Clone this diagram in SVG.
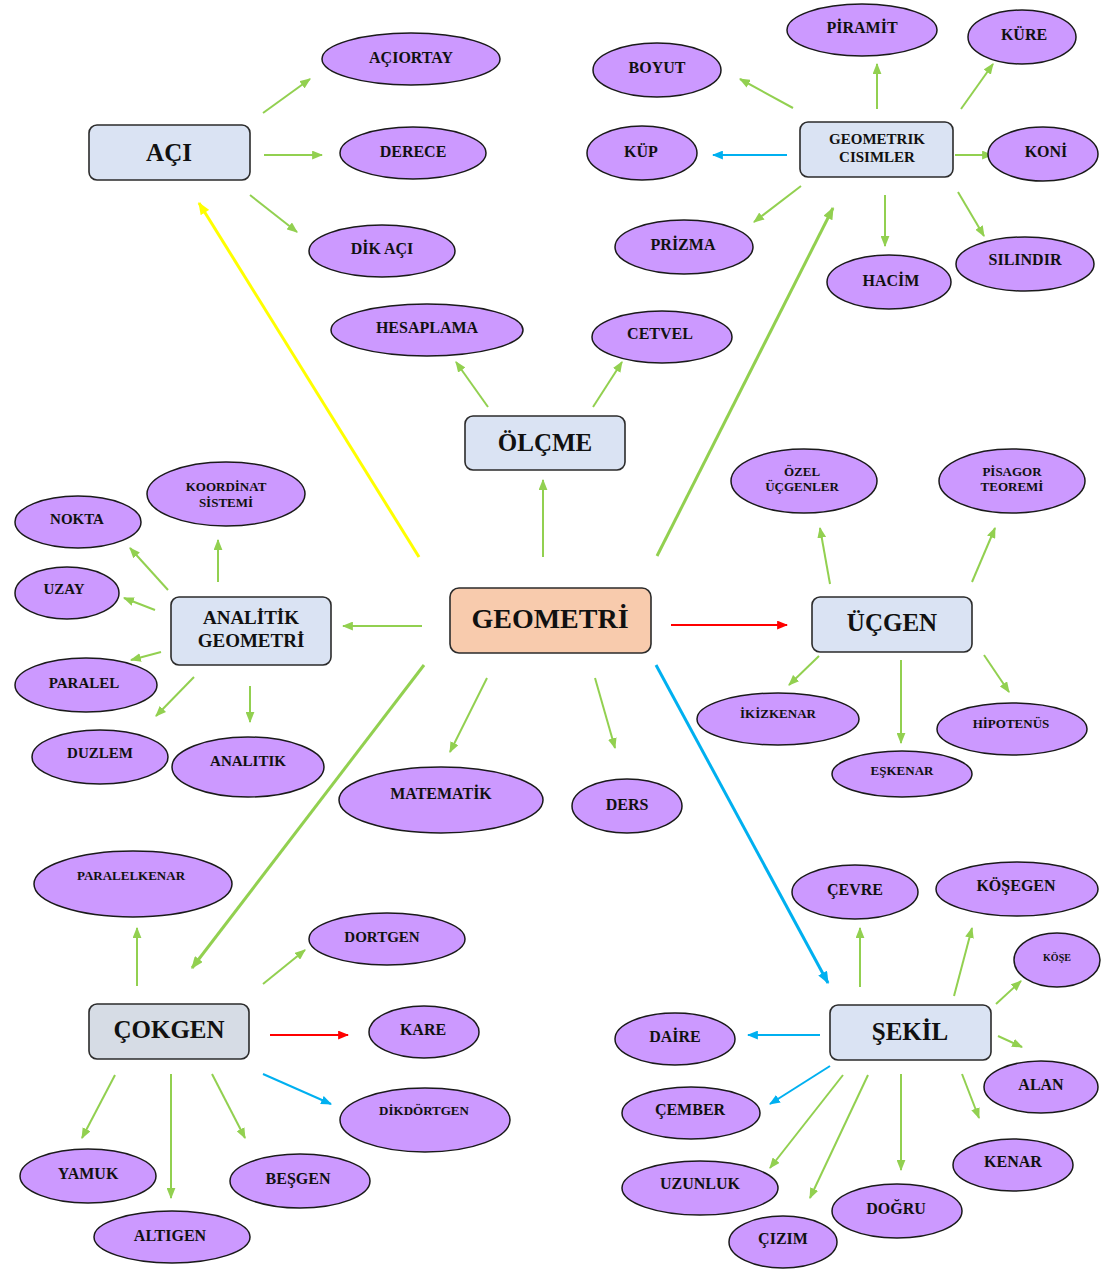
<svg xmlns="http://www.w3.org/2000/svg" width="1109" height="1270" viewBox="0 0 1109 1270">
<defs>
<style>
.box{fill:#dae3f3;stroke:#2b2b2b;stroke-width:1.6}
.ov{fill:#cc99ff;stroke:#1a1a1a;stroke-width:1.5}
text{font-family:"Liberation Serif","Times New Roman",serif;font-weight:bold;fill:#111;text-anchor:middle}
.t16{font-size:16px}
.t15{font-size:15px}
.t13{font-size:13px}
.tb{font-size:25px}
.g{stroke:#92d050;stroke-width:2;fill:none;marker-end:url(#ag)}
.gw{stroke:#92d050;stroke-width:3;fill:none;marker-end:url(#ag3)}
.b{stroke:#00b0f0;stroke-width:2;fill:none;marker-end:url(#ab)}
.bw{stroke:#00b0f0;stroke-width:3;fill:none;marker-end:url(#ab3)}
.r{stroke:#ff0000;stroke-width:2;fill:none;marker-end:url(#ar)}
.y{stroke:#ffff00;stroke-width:3;fill:none;marker-end:url(#ay3)}
</style>
<marker id="ag" viewBox="0 0 10 8" refX="9" refY="4" markerWidth="11" markerHeight="9" markerUnits="userSpaceOnUse" orient="auto"><path d="M0,0L10,4L0,8z" fill="#92d050"/></marker>
<marker id="ag3" viewBox="0 0 10 8" refX="9" refY="4" markerWidth="13" markerHeight="10" markerUnits="userSpaceOnUse" orient="auto"><path d="M0,0L10,4L0,8z" fill="#92d050"/></marker>
<marker id="ab" viewBox="0 0 10 8" refX="9" refY="4" markerWidth="11" markerHeight="9" markerUnits="userSpaceOnUse" orient="auto"><path d="M0,0L10,4L0,8z" fill="#00b0f0"/></marker>
<marker id="ab3" viewBox="0 0 10 8" refX="9" refY="4" markerWidth="13" markerHeight="10" markerUnits="userSpaceOnUse" orient="auto"><path d="M0,0L10,4L0,8z" fill="#00b0f0"/></marker>
<marker id="ar" viewBox="0 0 10 8" refX="9" refY="4" markerWidth="11" markerHeight="9" markerUnits="userSpaceOnUse" orient="auto"><path d="M0,0L10,4L0,8z" fill="#ff0000"/></marker>
<marker id="ay3" viewBox="0 0 10 8" refX="9" refY="4" markerWidth="13" markerHeight="10" markerUnits="userSpaceOnUse" orient="auto"><path d="M0,0L10,4L0,8z" fill="#ffff00"/></marker>
</defs>
<rect width="1109" height="1270" fill="#ffffff"/>

<g id="connectors">
<!-- main -->
<line class="y" x1="419" y1="557" x2="199" y2="203"/>
<line class="gw" x1="657" y1="556" x2="833" y2="208"/>
<line class="gw" x1="424" y1="665" x2="192" y2="968"/>
<line class="bw" x1="656" y1="665" x2="828" y2="983"/>
<line class="r" x1="671" y1="625" x2="787" y2="625"/>
<line class="g" x1="422" y1="626" x2="343" y2="626"/>
<line class="g" x1="543" y1="557" x2="543" y2="480"/>
<line class="g" x1="487" y1="678" x2="450" y2="752"/>
<line class="g" x1="595" y1="678" x2="615" y2="748"/>
<!-- AÇI -->
<line class="g" x1="263" y1="113" x2="310" y2="79"/>
<line class="g" x1="264" y1="155" x2="322" y2="155"/>
<line class="g" x1="250" y1="195" x2="297" y2="232"/>
<!-- GEOMETRIK CISIMLER -->
<line class="g" x1="793" y1="108" x2="740" y2="79"/>
<line class="g" x1="877" y1="109" x2="877" y2="64"/>
<line class="g" x1="961" y1="109" x2="993" y2="64"/>
<line class="b" x1="787" y1="155" x2="713" y2="155"/>
<line class="g" x1="955" y1="155" x2="992" y2="155"/>
<line class="g" x1="801" y1="186" x2="754" y2="222"/>
<line class="g" x1="885" y1="195" x2="885" y2="246"/>
<line class="g" x1="958" y1="192" x2="984" y2="236"/>
<!-- ÖLÇME -->
<line class="g" x1="488" y1="407" x2="456" y2="362"/>
<line class="g" x1="593" y1="407" x2="622" y2="362"/>
<!-- ANALİTİK -->
<line class="g" x1="218" y1="582" x2="218" y2="540"/>
<line class="g" x1="168" y1="590" x2="130" y2="548"/>
<line class="g" x1="155" y1="610" x2="124" y2="598"/>
<line class="g" x1="161" y1="652" x2="131" y2="660"/>
<line class="g" x1="194" y1="677" x2="156" y2="716"/>
<line class="g" x1="250" y1="686" x2="250" y2="722"/>
<!-- ÜÇGEN -->
<line class="g" x1="830" y1="584" x2="820" y2="528"/>
<line class="g" x1="972" y1="582" x2="995" y2="528"/>
<line class="g" x1="819" y1="656" x2="789" y2="685"/>
<line class="g" x1="901" y1="660" x2="901" y2="743"/>
<line class="g" x1="984" y1="655" x2="1009" y2="692"/>
<!-- ÇOKGEN -->
<line class="g" x1="137" y1="986" x2="137" y2="928"/>
<line class="g" x1="263" y1="984" x2="305" y2="950"/>
<line class="r" x1="270" y1="1035" x2="348" y2="1035"/>
<line class="b" x1="263" y1="1074" x2="331" y2="1104"/>
<line class="g" x1="115" y1="1075" x2="82" y2="1138"/>
<line class="g" x1="171" y1="1074" x2="171" y2="1198"/>
<line class="g" x1="212" y1="1074" x2="245" y2="1138"/>
<!-- ŞEKİL -->
<line class="g" x1="860" y1="987" x2="860" y2="928"/>
<line class="g" x1="954" y1="996" x2="972" y2="928"/>
<line class="g" x1="996" y1="1004" x2="1021" y2="981"/>
<line class="g" x1="998" y1="1036" x2="1022" y2="1047"/>
<line class="b" x1="820" y1="1035" x2="748" y2="1035"/>
<line class="b" x1="830" y1="1066" x2="770" y2="1104"/>
<line class="g" x1="843" y1="1075" x2="770" y2="1168"/>
<line class="g" x1="868" y1="1075" x2="810" y2="1198"/>
<line class="g" x1="901" y1="1074" x2="901" y2="1170"/>
<line class="g" x1="962" y1="1074" x2="979" y2="1118"/>
</g>

<!-- boxes -->
<g id="geometri"><rect x="450" y="588" width="201" height="65" rx="9" fill="#f8cbad" stroke="#2b2b2b" stroke-width="1.6"/><text x="550" y="628" style="font-size:28px">GEOMETRİ</text></g>
<g id="aci"><rect class="box" x="89" y="125" width="161" height="55" rx="8"/><text class="tb" x="169" y="161">AÇI</text></g>
<g id="geometrik-cisimler"><rect class="box" x="800" y="122" width="153" height="55" rx="8"/><text class="t15" x="877" y="144">GEOMETRIK</text><text class="t15" x="877" y="162">CISIMLER</text></g>
<g id="olcme"><rect class="box" x="465" y="416" width="160" height="54" rx="8"/><text class="tb" x="545" y="451">ÖLÇME</text></g>
<g id="ucgen"><rect class="box" x="812" y="597" width="160" height="55" rx="8"/><text class="tb" x="892" y="631">ÜÇGEN</text></g>
<g id="analitik-geometri"><rect class="box" x="171" y="597" width="160" height="68" rx="8"/><text x="251" y="624" style="font-size:19px">ANALİTİK</text><text x="251" y="647" style="font-size:19px">GEOMETRİ</text></g>
<g id="cokgen"><rect class="box" x="89" y="1004" width="160" height="55" rx="8" style="fill:#d6dce5"/><text class="tb" x="169" y="1038">ÇOKGEN</text></g>
<g id="sekil"><rect class="box" x="830" y="1005" width="161" height="55" rx="8"/><text class="tb" x="910" y="1040">ŞEKİL</text></g>

<!-- ellipses -->
<g id="aciortay"><ellipse class="ov" cx="411" cy="59" rx="89" ry="26"/><text class="t16" x="411" y="63">AÇIORTAY</text></g>
<g id="derece"><ellipse class="ov" cx="413" cy="153" rx="73" ry="26"/><text class="t16" x="413" y="157">DERECE</text></g>
<g id="dik-aci"><ellipse class="ov" cx="382" cy="251" rx="73" ry="26"/><text class="t16" x="382" y="254">DİK AÇI</text></g>

<g id="piramit"><ellipse class="ov" cx="862" cy="30" rx="75" ry="26"/><text class="t16" x="862" y="33">PİRAMİT</text></g>
<g id="kure"><ellipse class="ov" cx="1022" cy="37" rx="54" ry="27"/><text class="t16" x="1024" y="40">KÜRE</text></g>
<g id="boyut"><ellipse class="ov" cx="657" cy="70" rx="64" ry="27"/><text class="t16" x="657" y="73">BOYUT</text></g>
<g id="kup"><ellipse class="ov" cx="642" cy="153" rx="55" ry="27"/><text class="t16" x="641" y="157">KÜP</text></g>
<g id="koni"><ellipse class="ov" cx="1043" cy="154" rx="55" ry="27"/><text class="t16" x="1046" y="157">KONİ</text></g>
<g id="prizma"><ellipse class="ov" cx="684" cy="247" rx="69" ry="27"/><text class="t16" x="683" y="250">PRİZMA</text></g>
<g id="hacim"><ellipse class="ov" cx="889" cy="282" rx="62" ry="27"/><text class="t16" x="891" y="286">HACİM</text></g>
<g id="silindir"><ellipse class="ov" cx="1025" cy="264" rx="69" ry="27"/><text class="t16" x="1025" y="265">SILINDIR</text></g>

<g id="hesaplama"><ellipse class="ov" cx="427" cy="330" rx="96" ry="26"/><text class="t16" x="427" y="333">HESAPLAMA</text></g>
<g id="cetvel"><ellipse class="ov" cx="662" cy="337" rx="70" ry="26"/><text class="t16" x="660" y="339">CETVEL</text></g>

<g id="ozel-ucgenler"><ellipse class="ov" cx="804" cy="481" rx="73" ry="32"/><text class="t13" x="802" y="476">ÖZEL</text><text class="t13" x="802" y="491">ÜÇGENLER</text></g>
<g id="pisagor"><ellipse class="ov" cx="1012" cy="481" rx="73" ry="32"/><text class="t13" x="1012" y="476">PİSAGOR</text><text class="t13" x="1012" y="491">TEOREMİ</text></g>
<g id="ikizkenar"><ellipse class="ov" cx="778" cy="719" rx="81" ry="26"/><text class="t13" x="778" y="718">İKİZKENAR</text></g>
<g id="eskenar"><ellipse class="ov" cx="902" cy="774" rx="70" ry="23"/><text class="t13" x="902" y="775">EŞKENAR</text></g>
<g id="hipotenus"><ellipse class="ov" cx="1012" cy="729" rx="75" ry="26"/><text class="t13" x="1011" y="728">HİPOTENÜS</text></g>

<g id="koordinat"><ellipse class="ov" cx="226" cy="494" rx="79" ry="32"/><text class="t13" x="226" y="491">KOORDİNAT</text><text class="t13" x="226" y="507">SİSTEMİ</text></g>
<g id="nokta"><ellipse class="ov" cx="78" cy="522" rx="63" ry="26"/><text class="t15" x="77" y="524">NOKTA</text></g>
<g id="uzay"><ellipse class="ov" cx="67" cy="593" rx="52" ry="26"/><text class="t15" x="64" y="594">UZAY</text></g>
<g id="paralel"><ellipse class="ov" cx="86" cy="685" rx="71" ry="27"/><text class="t15" x="84" y="688">PARALEL</text></g>
<g id="duzlem"><ellipse class="ov" cx="100" cy="757" rx="68" ry="27"/><text class="t15" x="100" y="758">DUZLEM</text></g>
<g id="analitik"><ellipse class="ov" cx="248" cy="767" rx="76" ry="30"/><text class="t15" x="248" y="766">ANALITIK</text></g>

<g id="matematik"><ellipse class="ov" cx="441" cy="800" rx="102" ry="33"/><text class="t16" x="441" y="799">MATEMATİK</text></g>
<g id="ders"><ellipse class="ov" cx="627" cy="806" rx="55" ry="27"/><text class="t16" x="627" y="810">DERS</text></g>

<g id="paralelkenar"><ellipse class="ov" cx="133" cy="884" rx="99" ry="33"/><text class="t13" x="131" y="880">PARALELKENAR</text></g>
<g id="dortgen"><ellipse class="ov" cx="387" cy="939" rx="78" ry="26"/><text class="t15" x="382" y="942">DORTGEN</text></g>
<g id="kare"><ellipse class="ov" cx="424" cy="1032" rx="55" ry="26"/><text class="t16" x="423" y="1035">KARE</text></g>
<g id="dikdortgen"><ellipse class="ov" cx="425" cy="1120" rx="85" ry="32"/><text class="t13" x="424" y="1115">DİKDÖRTGEN</text></g>
<g id="yamuk"><ellipse class="ov" cx="88" cy="1176" rx="68" ry="27"/><text class="t16" x="88" y="1179">YAMUK</text></g>
<g id="altigen"><ellipse class="ov" cx="172" cy="1237" rx="78" ry="26"/><text class="t16" x="170" y="1241">ALTIGEN</text></g>
<g id="besgen"><ellipse class="ov" cx="300" cy="1181" rx="70" ry="27"/><text class="t16" x="298" y="1184">BEŞGEN</text></g>

<g id="cevre"><ellipse class="ov" cx="855" cy="892" rx="63" ry="27"/><text class="t16" x="855" y="895">ÇEVRE</text></g>
<g id="kosegen"><ellipse class="ov" cx="1017" cy="889" rx="81" ry="27"/><text class="t16" x="1016" y="891">KÖŞEGEN</text></g>
<g id="kose"><ellipse class="ov" cx="1057" cy="960" rx="43" ry="27"/><text x="1057" y="961" style="font-size:10px">KÖŞE</text></g>
<g id="daire"><ellipse class="ov" cx="675" cy="1039" rx="60" ry="26"/><text class="t16" x="675" y="1042">DAİRE</text></g>
<g id="alan"><ellipse class="ov" cx="1041" cy="1087" rx="57" ry="26"/><text class="t16" x="1041" y="1090">ALAN</text></g>
<g id="cember"><ellipse class="ov" cx="691" cy="1113" rx="69" ry="26"/><text class="t16" x="690" y="1115">ÇEMBER</text></g>
<g id="kenar"><ellipse class="ov" cx="1013" cy="1165" rx="60" ry="26"/><text class="t16" x="1013" y="1167">KENAR</text></g>
<g id="uzunluk"><ellipse class="ov" cx="700" cy="1188" rx="78" ry="27"/><text class="t16" x="700" y="1189">UZUNLUK</text></g>
<g id="dogru"><ellipse class="ov" cx="897" cy="1211" rx="65" ry="27"/><text class="t16" x="896" y="1214">DOĞRU</text></g>
<g id="cizim"><ellipse class="ov" cx="783" cy="1242" rx="54" ry="26"/><text class="t16" x="783" y="1244">ÇIZIM</text></g>
</svg>
